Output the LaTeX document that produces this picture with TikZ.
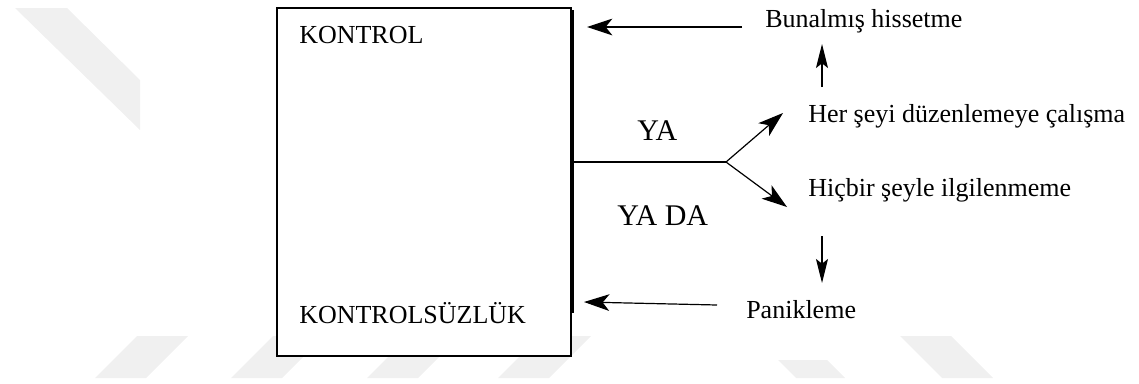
\documentclass[tikz,border=0pt]{standalone}
\usepackage{fontspec}
\setmainfont{Liberation Serif}
\usetikzlibrary{arrows.meta}
\begin{document}
\begin{tikzpicture}[x=0.75pt,y=-0.75pt,
  lbl/.style={anchor=base west,inner sep=0pt,font=\fontsize{19.5}{22}\selectfont},
  biglbl/.style={anchor=base west,inner sep=0pt,font=\fontsize{22.5}{26}\selectfont},
  conn/.style={line width=1.2pt*0.75},
  arr/.style={conn,-{Stealth[length=19pt,width=12.5pt,inset=5pt]}},
  varr/.style={conn,-{Stealth[length=18pt,width=9pt,inset=3.5pt]}},
  wm/.style={fill=black!6,draw=none}]
\useasboundingbox (0,0) rectangle (1139,383);
% faint background watermark
\fill[wm] (15,8) -- (67,8) -- (140,80) -- (140,130) -- cycle;
\fill[wm] (137,336) -- (188,336) -- (146,378) -- (95,378) -- cycle;
\fill[wm] (273,336) -- (324,336) -- (282,378) -- (231,378) -- cycle;
\fill[wm] (409,336) -- (460,336) -- (418,378) -- (367,378) -- cycle;
\fill[wm] (540,336) -- (591,336) -- (549,378) -- (498,378) -- cycle;
\fill[wm] (778,360) -- (827,360) -- (845,378) -- (796,378) -- cycle;
\fill[wm] (900,336) -- (951,336) -- (993,378) -- (942,378) -- cycle;
% main box
\draw[line width=2.7pt*0.75,fill=white] (277,8) rectangle (571,356);
\draw[line width=2pt*0.75] (573.3,10) -- (573.3,313);
\node[lbl] (kontrol) at (299,43) {KONTROL};
\node[lbl] (kontrolsuz) at (299,323) {KONTROLSÜZLÜK};
% right-hand labels
\node[lbl] (bunal) at (765,27) {Bunalmış hissetme};
\node[lbl] (duzen) at (808,122) {Her şeyi düzenlemeye çalışma};
\node[lbl] (ilgi) at (808,196) {Hiçbir şeyle ilgilenmeme};
\node[lbl] (panik) at (746,318) {Panikleme};
\node[biglbl] (ya) at (637,140) {YA};
\node[biglbl] (yada) at (617,225) {YA DA};
% connector end points
\coordinate (out) at (574,162);
\coordinate (split) at (726,162);
\coordinate (upTip) at (783,113);
\coordinate (dnTip) at (787,207);
\coordinate (topTail) at (742,27);
\coordinate (topTip) at (587,27);
\coordinate (upFrom) at (822,87);
\coordinate (upTo) at (822,44);
\coordinate (dnFrom) at (822,236);
\coordinate (dnTo) at (822,283);
\coordinate (botTail) at (717,305);
\coordinate (botTip) at (584,302);
% connectors
\draw[conn] (out) -- (split);
\draw[arr] (split) -- (upTip);
\draw[arr] (split) -- (dnTip);
\draw[arr] (topTail) -- (topTip);
\draw[varr] (upFrom) -- (upTo);
\draw[varr] (dnFrom) -- (dnTo);
\draw[arr] (botTail) -- (botTip);
\end{tikzpicture}
\end{document}
